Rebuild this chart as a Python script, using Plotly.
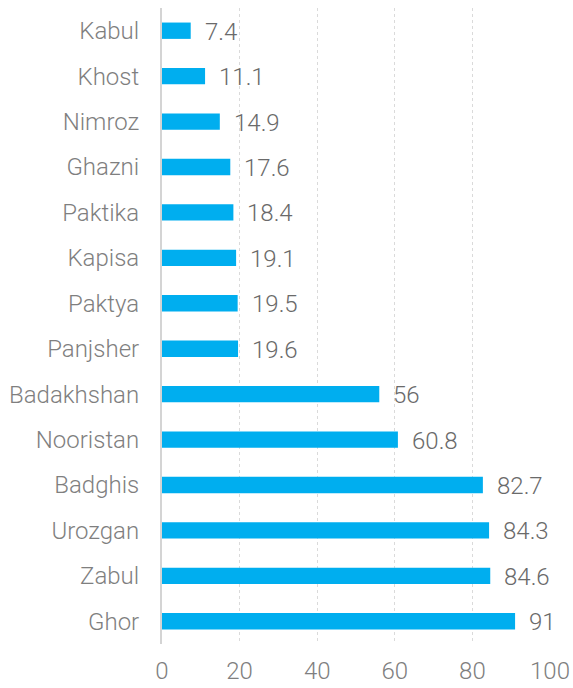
import plotly.graph_objects as go

provinces = ["Kabul", "Khost", "Nimroz", "Ghazni", "Paktika", "Kapisa", "Paktya",
             "Panjsher", "Badakhshan", "Nooristan", "Badghis", "Urozgan", "Zabul", "Ghor"]
values = [7.4, 11.1, 14.9, 17.6, 18.4, 19.1, 19.5, 19.6, 56, 60.8, 82.7, 84.3, 84.6, 91]
x_ticks = [0, 20, 40, 60, 80, 100]

bar_color = "#00AEEF"
text_color = "#7f7f7f"
font_family = "Roboto, Liberation Sans, Arial, sans-serif"

fig = go.Figure()
fig.add_trace(go.Bar(
    x=values, y=provinces, orientation="h",
    marker=dict(color=bar_color, line=dict(width=0)),
    width=0.36,
    hoverinfo="x+y",
))

annotations = []
for p, v in zip(provinces, values):
    annotations.append(dict(
        x=v, y=p, xref="x", yref="y", text=f"{v:g}", showarrow=False,
        xanchor="left", yanchor="middle", xshift=12, yshift=-1,
        font=dict(size=24, color="#6a6a6a", family=font_family, weight=300),
    ))

fig.update_layout(
    width=573, height=688,
    margin=dict(l=162, r=23, t=8, b=44, autoexpand=False),
    paper_bgcolor="white", plot_bgcolor="white",
    showlegend=False,
    annotations=annotations,
    font=dict(family=font_family, size=24, color=text_color, weight=300),
)
fig.update_xaxes(
    range=[0, 100], tickvals=x_ticks, ticktext=[str(t) for t in x_ticks],
    showgrid=True, gridcolor="#dadada", griddash="dot", gridwidth=1,
    zeroline=False, showline=False, automargin=False,
    ticks="", ticklabelstandoff=10,
    tickfont=dict(size=24, color=text_color, family=font_family, weight=300),
)
fig.update_yaxes(
    categoryorder="array", categoryarray=provinces, autorange="reversed",
    showgrid=False, zeroline=False, automargin=False,
    showline=True, linecolor="#d4d4d4", linewidth=2,
    ticks="", ticklabelstandoff=16,
    tickfont=dict(size=24, color=text_color, family=font_family, weight=300),
)

fig.write_html(
    "out.html",
    config={"displayModeBar": False},
    post_script="document.body.style.margin='0';document.body.style.overflow='hidden';",
)
